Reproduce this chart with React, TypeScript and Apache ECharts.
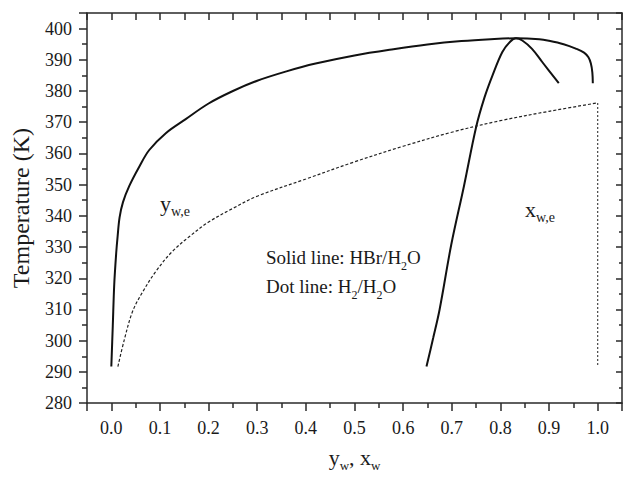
import React, { useEffect, useRef } from "react";
import * as echarts from "echarts";

// Axis ranges and tick steps
const xRange = [-0.05, 1.05];
const yRange = [280, 405];
const xMajorStep = 0.1;
const xTopStep = 0.05;
const yMajorStep = 10;

// HBr/H2O vapour line (y_w,e) - solid
const hbrVaporX = [0.000, 0.003, 0.006, 0.010, 0.013, 0.017, 0.024, 0.037, 0.058, 0.078, 0.112, 0.153, 0.200, 0.250, 0.300, 0.360, 0.420, 0.500, 0.580, 0.650, 0.720, 0.780, 0.832, 0.880, 0.900, 0.930, 0.955, 0.972, 0.981, 0.986, 0.989, 0.990];
const hbrVaporT = [291.7, 304.7, 318.0, 328.0, 333.5, 339.5, 344.4, 349.6, 355.9, 361.1, 366.5, 371.0, 376.0, 380.0, 383.3, 386.3, 388.8, 391.4, 393.4, 394.9, 396.0, 396.6, 396.9, 396.6, 396.1, 395.0, 393.6, 392.3, 390.8, 388.8, 386.0, 382.5];

// HBr/H2O liquid line (x_w,e) - solid
const hbrLiquidX = [0.648, 0.662, 0.675, 0.699, 0.725, 0.750, 0.767, 0.784, 0.804, 0.820, 0.832, 0.845, 0.865, 0.886, 0.920];
const hbrLiquidT = [291.7, 301.0, 310.0, 330.8, 349.5, 368.4, 377.8, 385.1, 392.5, 395.8, 396.9, 396.2, 393.5, 389.3, 382.5];

// H2/H2O line - dotted
const h2CurveX = [0.0135, 0.027, 0.044, 0.064, 0.092, 0.125, 0.160, 0.200, 0.250, 0.300, 0.400, 0.500, 0.600, 0.700, 0.800, 0.900, 1.000];
const h2CurveT = [291.7, 300.5, 309.5, 315.5, 322.3, 328.5, 333.3, 338.0, 342.4, 346.3, 351.8, 357.3, 362.3, 366.8, 370.5, 373.5, 376.2];
const h2EndX = [1.0, 1.0];
const h2EndT = [376.2, 291.7];

const zip = (xs: number[], ys: number[]) => xs.map((x, i) => [x, ys[i]]);

const FONT = "Liberation Serif";
const AXIS_COLOR = "#2a2a2a";
const TEXT_COLOR = "#1a1a1a";

export default function App() {
  const ref = useRef<HTMLDivElement>(null);

  useEffect(() => {
    if (!ref.current) return;
    const chart = echarts.init(ref.current, undefined, { renderer: "svg" });

    const axisLine = { show: true, onZero: false, lineStyle: { color: AXIS_COLOR, width: 1.5 } };
    const tickLine = { color: AXIS_COLOR, width: 1.5 };
    const xBase = {
      type: "value",
      min: xRange[0],
      max: xRange[1],
      splitNumber: 11,
      minInterval: xMajorStep,
      maxInterval: xMajorStep,
      splitLine: { show: false },
      minorSplitLine: { show: false },
      gridIndex: 0,
    };
    const yBase = {
      type: "value",
      min: yRange[0],
      max: yRange[1],
      interval: yMajorStep,
      splitLine: { show: false },
      minorSplitLine: { show: false },
      gridIndex: 0,
    };

    const option: any = {
      animation: false,
      backgroundColor: "#ffffff",
      grid: { left: 87, top: 13, width: 540, height: 399 },
      xAxis: [
        {
          ...xBase,
          position: "bottom",
          axisLine,
          axisTick: { show: true, inside: false, length: 8, lineStyle: tickLine },
          minorTick: { show: true, splitNumber: 2, length: 5, lineStyle: tickLine },
          axisLabel: {
            show: true,
            showMinLabel: true,
            showMaxLabel: true,
            formatter: (v: number) => (v < -0.001 || v > 1.001 ? "" : v.toFixed(1)),
            margin: 16,
            fontFamily: FONT,
            fontSize: 18,
            color: TEXT_COLOR,
          },
          name: "y{s|w}, x{s|w}",
          nameLocation: "middle",
          nameGap: 32,
          nameTextStyle: {
            fontFamily: FONT,
            fontSize: 22,
            color: TEXT_COLOR,
            lineHeight: 30,
            verticalAlign: "top",
            rich: {
              s: { fontFamily: FONT, fontSize: 13, lineHeight: 13, color: TEXT_COLOR, verticalAlign: "bottom" },
            },
          },
        },
        {
          ...xBase,
          minInterval: xTopStep,
          maxInterval: xTopStep,
          splitNumber: 22,
          position: "top",
          axisLine,
          axisTick: { show: true, inside: true, length: 7, lineStyle: tickLine },
          axisLabel: { show: false },
        },
      ],
      yAxis: [
        {
          ...yBase,
          position: "left",
          axisLine,
          axisTick: { show: true, inside: false, length: 8, lineStyle: tickLine },
          minorTick: { show: true, splitNumber: 2, length: 5, lineStyle: tickLine },
          axisLabel: {
            show: true,
            formatter: (v: number) => (v > 400.5 ? "" : String(v)),
            margin: 15,
            fontFamily: FONT,
            fontSize: 18,
            color: TEXT_COLOR,
          },
          name: "Temperature (K)",
          nameLocation: "middle",
          nameGap: 54,
          nameTextStyle: { fontFamily: FONT, fontSize: 24, color: TEXT_COLOR },
        },
        {
          ...yBase,
          position: "right",
          axisLine,
          axisTick: { show: true, inside: true, length: 6, lineStyle: tickLine },
          minorTick: { show: true, splitNumber: 2, length: 3, lineStyle: tickLine },
          axisLabel: { show: false },
        },
      ],
      series: [
        {
          name: "HBr/H2O vapour",
          type: "line",
          data: zip(hbrVaporX, hbrVaporT),
          showSymbol: false,
          smooth: 0.35,
          lineStyle: { color: "#111", width: 2, type: "solid" },
        },
        {
          name: "HBr/H2O liquid",
          type: "line",
          data: zip(hbrLiquidX, hbrLiquidT),
          showSymbol: false,
          smooth: 0.35,
          lineStyle: { color: "#111", width: 2, type: "solid" },
        },
        {
          name: "H2/H2O",
          type: "line",
          data: zip(h2CurveX, h2CurveT),
          showSymbol: false,
          smooth: 0.35,
          lineStyle: { color: "#222", width: 1.2, type: [3, 2] },
        },
        {
          name: "H2/H2O end",
          type: "line",
          data: zip(h2EndX, h2EndT),
          showSymbol: false,
          lineStyle: { color: "#444", width: 1.2, type: [2, 2] },
        },
      ],
      graphic: [
        {
          type: "text",
          x: 160,
          y: 188.5,
          style: {
            text: "{m|y}{s|w,e}",
            verticalAlign: "top",
            rich: {
              m: { fontFamily: FONT, fontSize: 22, lineHeight: 30, fill: TEXT_COLOR, verticalAlign: "middle" },
              s: { fontFamily: FONT, fontSize: 14, lineHeight: 14, fill: TEXT_COLOR, verticalAlign: "bottom" },
            },
          },
        },
        {
          type: "text",
          x: 525,
          y: 194,
          style: {
            text: "{m|x}{s|w,e}",
            verticalAlign: "top",
            rich: {
              m: { fontFamily: FONT, fontSize: 22, lineHeight: 30, fill: TEXT_COLOR, verticalAlign: "middle" },
              s: { fontFamily: FONT, fontSize: 14, lineHeight: 14, fill: TEXT_COLOR, verticalAlign: "bottom" },
            },
          },
        },
        {
          type: "text",
          x: 266,
          y: 243.5,
          style: {
            text: "{m|Solid line: HBr/H}{s|2}{m|O}",
            verticalAlign: "top",
            rich: {
              m: { fontFamily: FONT, fontSize: 19, lineHeight: 28, fill: TEXT_COLOR, verticalAlign: "middle" },
              s: { fontFamily: FONT, fontSize: 12, lineHeight: 12, fill: TEXT_COLOR, verticalAlign: "bottom" },
            },
          },
        },
        {
          type: "text",
          x: 266,
          y: 272.8,
          style: {
            text: "{m|Dot line: H}{s|2}{m|/H}{s|2}{m|O}",
            verticalAlign: "top",
            rich: {
              m: { fontFamily: FONT, fontSize: 19, lineHeight: 28, fill: TEXT_COLOR, verticalAlign: "middle" },
              s: { fontFamily: FONT, fontSize: 12, lineHeight: 12, fill: TEXT_COLOR, verticalAlign: "bottom" },
            },
          },
        },
      ],
    };

    chart.setOption(option);
    return () => chart.dispose();
  }, []);

  return (
    <div
      ref={ref}
      style={{ position: "fixed", left: 0, top: 0, width: 625, height: 477, background: "#fff" }}
    />
  );
}
